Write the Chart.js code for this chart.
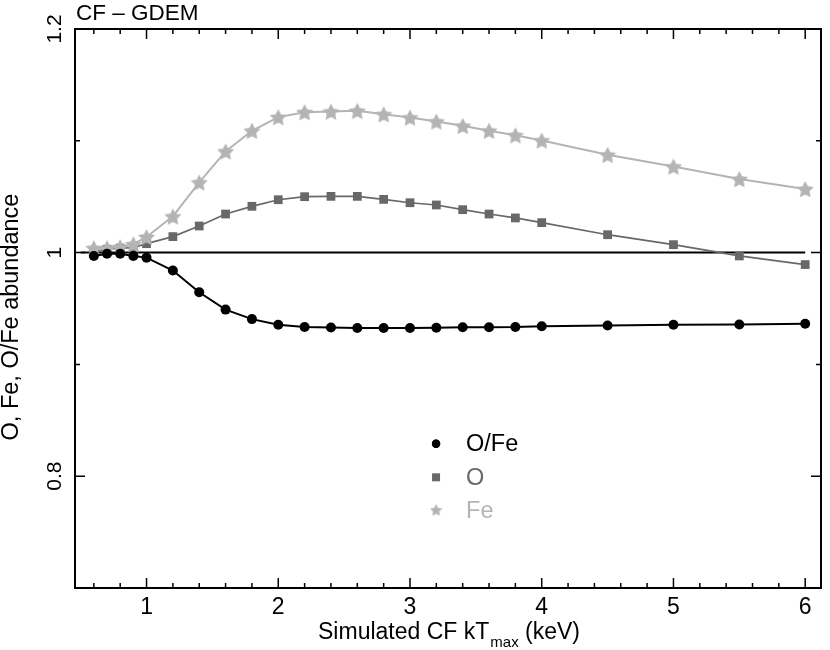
<!DOCTYPE html>
<html>
<head>
<meta charset="utf-8">
<title>CF - GDEM abundances</title>
<script src="https://cdn.jsdelivr.net/npm/chart.js@4.4.1/dist/chart.umd.min.js"></script>
<style>
    html, body { margin: 0; padding: 0; background: #ffffff; }
    #wrap { width: 830px; height: 650px; position: relative; }
</style>
</head>
<body>
<div id="wrap"><canvas id="chart"></canvas></div>
<script>
// simulated CF kTmax (keV)
const kT = [0.6, 0.7, 0.8, 0.9, 1.0, 1.2, 1.4, 1.6, 1.8, 2.0, 2.2, 2.4, 2.6, 2.8, 3.0, 3.2, 3.4, 3.6, 3.8, 4.0, 4.5, 5.0, 5.5, 6.0];

// fitted abundances
const ratioOFe = [0.997, 0.999, 0.999, 0.997, 0.9955, 0.984, 0.9645, 0.949, 0.9405, 0.9355, 0.9335, 0.933, 0.9325, 0.9325, 0.9325, 0.9328, 0.9332, 0.9332, 0.9334, 0.9342, 0.9348, 0.9354, 0.9357, 0.9363];
const oxygen = [1.001, 1.003, 1.004, 1.0045, 1.008, 1.0143, 1.0238, 1.0345, 1.0414, 1.0473, 1.05, 1.0503, 1.0503, 1.0476, 1.0446, 1.0426, 1.0384, 1.0345, 1.031, 1.0268, 1.016, 1.0071, 0.997, 0.9893];
const iron = [1.004, 1.004, 1.005, 1.0075, 1.014, 1.0324, 1.0628, 1.0905, 1.109, 1.1212, 1.1256, 1.1262, 1.1268, 1.1238, 1.1208, 1.1173, 1.1134, 1.109, 1.105, 1.1003, 1.0875, 1.077, 1.0658, 1.0569];

// reference line at abundance = 1
const refX = [0.5, 6.0];
const refY = [1, 1];

// axis ticks
const xMajorTicks = [1, 2, 3, 4, 5, 6];
const xMinorTicks = [0.6, 0.8, 1.2, 1.4, 1.6, 1.8, 2.2, 2.4, 2.6, 2.8, 3.2, 3.4, 3.6, 3.8, 4.2, 4.4, 4.6, 4.8, 5.2, 5.4, 5.6, 5.8];
const yMajorTicks = [0.8, 1, 1.2];
const yMinorTicks = [0.7, 0.9, 1.1];
const yTickLabels = ['0.8', '1', '1.2'];

const seriesNames = ['O/Fe', 'O', 'Fe'];

const FONT = "'Liberation Sans', Arial, Helvetica, sans-serif";
const BLACK = '#000000';
const GREY_O = '#686868';
const GREY_FE = '#b4b4b4';

function toPoints(xs, ys) {
    return xs.map((x, i) => ({ x: x, y: ys[i] }));
}

// filled five-pointed star used as point style
function makeStar(size, color) {
    const c = document.createElement('canvas');
    c.width = size;
    c.height = size;
    const g = c.getContext('2d');
    const R = size / 2;
    const r = R * 0.5;
    const cy = R + R * 0.1;
    g.beginPath();
    for (let i = 0; i < 10; i++) {
        const a = -Math.PI / 2 + i * Math.PI / 5;
        const rad = i % 2 === 0 ? R : r;
        g.lineTo(R + rad * Math.cos(a), cy + rad * Math.sin(a));
    }
    g.closePath();
    g.fillStyle = color;
    g.fill();
    return c;
}

const starBig = makeStar(18, GREY_FE);
const starSmall = makeStar(13, GREY_FE);

// frame, inward ticks, rotated labels, titles and the legend
const decorations = {
    id: 'decorations',
    afterDraw(chart) {
        const ctx = chart.ctx;
        const xs = chart.scales.x;
        const ys = chart.scales.y;
        const a = chart.chartArea;
        ctx.save();

        // box
        ctx.strokeStyle = BLACK;
        ctx.lineWidth = 2;
        ctx.strokeRect(a.left, a.top, a.right - a.left, a.bottom - a.top);

        // ticks pointing into the plot
        ctx.lineWidth = 1.5;
        ctx.beginPath();
        const xTick = (v, len) => {
            const px = xs.getPixelForValue(v);
            ctx.moveTo(px, a.bottom);
            ctx.lineTo(px, a.bottom - len);
            ctx.moveTo(px, a.top);
            ctx.lineTo(px, a.top + len);
        };
        const yTick = (v, len) => {
            const py = ys.getPixelForValue(v);
            ctx.moveTo(a.left, py);
            ctx.lineTo(a.left + len, py);
            ctx.moveTo(a.right, py);
            ctx.lineTo(a.right - len, py);
        };
        xMajorTicks.forEach(v => xTick(v, 10));
        xMinorTicks.forEach(v => xTick(v, 5));
        yMajorTicks.forEach(v => yTick(v, 10));
        yMinorTicks.forEach(v => yTick(v, 5));
        ctx.stroke();

        // y tick labels, rotated
        ctx.fillStyle = BLACK;
        ctx.font = '21px ' + FONT;
        ctx.textAlign = 'center';
        ctx.textBaseline = 'alphabetic';
        yMajorTicks.forEach((v, i) => {
            const py = ys.getPixelForValue(v);
            ctx.save();
            ctx.translate(a.left - 14, py);
            ctx.rotate(-Math.PI / 2);
            ctx.fillText(yTickLabels[i], 0, 0);
            ctx.restore();
        });

        // y axis title
        ctx.save();
        ctx.font = '23.5px ' + FONT;
        ctx.translate(18, 317);
        ctx.rotate(-Math.PI / 2);
        ctx.fillText('O, Fe, O/Fe abundance', 0, 0);
        ctx.restore();

        // x axis title with subscript
        ctx.textAlign = 'left';
        const part1 = 'Simulated CF kT';
        const sub = 'max';
        const part2 = ' (keV)';
        ctx.font = '23px ' + FONT;
        const w1 = ctx.measureText(part1).width;
        const w3 = ctx.measureText(part2).width;
        ctx.font = '15px ' + FONT;
        const w2 = ctx.measureText(sub).width;
        const total = w1 + w2 + w3 + 1;
        const cx = (a.left + a.right) / 2 + 1;
        const tx = cx - total / 2;
        const base = 639;
        ctx.font = '23px ' + FONT;
        ctx.fillText(part1, tx, base);
        ctx.font = '15px ' + FONT;
        ctx.fillText(sub, tx + w1 + 1, base + 8);
        ctx.font = '23px ' + FONT;
        ctx.fillText(part2, tx + w1 + w2 + 1, base);

        // panel title
        ctx.font = '22.5px ' + FONT;
        ctx.fillText('CF \u2013 GDEM', a.left + 1, 20);

        // legend
        const lx = a.left + 0.484 * (a.right - a.left);
        const rows = [0.742, 0.802, 0.861].map(f => a.top + f * (a.bottom - a.top));
        const colors = [BLACK, GREY_O, GREY_FE];
        ctx.font = '23.5px ' + FONT;
        ctx.textBaseline = 'middle';
        Chart.helpers.drawPoint(ctx, { pointStyle: 'circle', radius: 4.2, rotation: 0, borderWidth: 0 }, lx, rows[0]);
        ctx.fillStyle = BLACK;
        ctx.fill();
        ctx.fillStyle = GREY_O;
        ctx.fillRect(lx - 4, rows[1] - 4, 8, 8);
        ctx.drawImage(starSmall, lx - 6.5, rows[2] - 7);
        seriesNames.forEach((name, i) => {
            ctx.fillStyle = colors[i];
            ctx.fillText(name, lx + 30, rows[i] + 1);
        });

        ctx.restore();
    }
};

const ctx = document.getElementById('chart');
new Chart(ctx, {
    type: 'line',
    data: {
        datasets: [
            {
                label: 'O/Fe',
                data: toPoints(kT, ratioOFe),
                borderColor: BLACK,
                backgroundColor: BLACK,
                borderWidth: 2,
                pointStyle: 'circle',
                pointRadius: 5,
                pointBorderWidth: 0,
                tension: 0,
            },
            {
                label: 'Fe',
                data: toPoints(kT, iron),
                borderColor: GREY_FE,
                backgroundColor: GREY_FE,
                borderWidth: 2,
                pointStyle: starBig,
                pointRadius: 9,
                pointBorderWidth: 0,
                tension: 0,
            },
            {
                label: 'O',
                data: toPoints(kT, oxygen),
                borderColor: GREY_O,
                backgroundColor: GREY_O,
                borderWidth: 1.7,
                pointStyle: 'rect',
                pointRadius: 6.2,
                pointBorderWidth: 0,
                tension: 0,
            },
            {
                label: 'ref',
                data: toPoints(refX, refY),
                borderColor: BLACK,
                borderWidth: 2,
                pointRadius: 0,
                tension: 0,
            },
        ],
    },
    options: {
        responsive: true,
        maintainAspectRatio: false,
        animation: false,
        layout: {
            padding: { top: 29, right: 3, left: 0, bottom: 0 },
        },
        plugins: {
            legend: { display: false },
            tooltip: { enabled: false },
        },
        scales: {
            x: {
                type: 'linear',
                min: 0.457,
                max: 6.12,
                afterFit: (scale) => { scale.height = 62; },
                afterBuildTicks: (scale) => {
                    scale.ticks = xMajorTicks.map(v => ({ value: v }));
                },
                ticks: {
                    color: BLACK,
                    padding: -2,
                    font: { family: FONT, size: 23 },
                    maxRotation: 0,
                    callback: (value) => String(value),
                },
                grid: { display: false },
                border: { display: false },
            },
            y: {
                type: 'linear',
                min: 0.7,
                max: 1.2,
                afterFit: (scale) => { scale.width = 75; },
                ticks: { display: false },
                grid: { display: false },
                border: { display: false },
            },
        },
    },
    plugins: [decorations],
});
</script>
</body>
</html>
